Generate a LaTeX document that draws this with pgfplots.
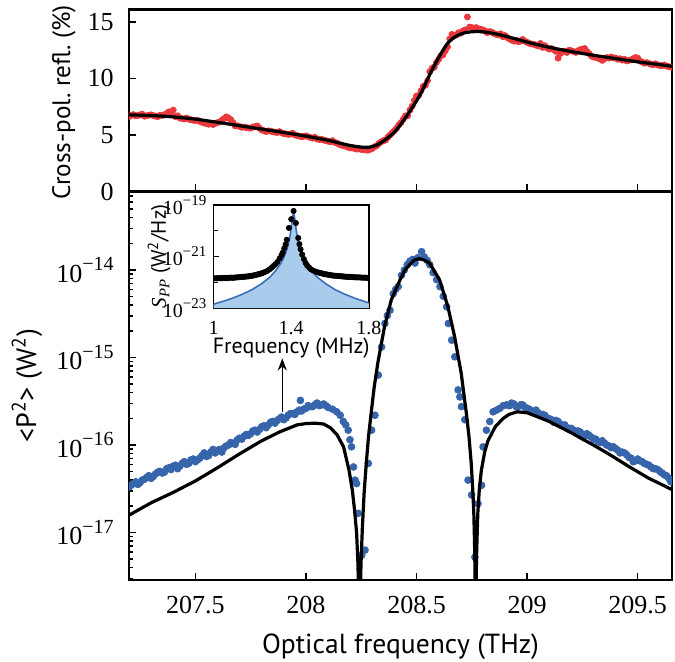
\documentclass[border=0pt]{standalone}
\usepackage{pgfplots}
\pgfplotsset{compat=1.18}
\usetikzlibrary{arrows.meta}
\usepackage{fontspec}
\setmainfont{Liberation Serif}
\setsansfont{PT Sans}
\newfontfamily\arialfont{Liberation Sans}
\definecolor{reddot}{RGB}{234,56,60}
\definecolor{bluedot}{RGB}{54,101,172}
\definecolor{fillblue}{RGB}{170,204,236}
\definecolor{lineblue}{RGB}{60,110,185}
\newcommand{\tsup}[1]{\raisebox{0.45em}{\fontsize{10}{12}\selectfont #1}}
\newcommand{\isup}[1]{\raisebox{0.45em}{\fontsize{7.5}{9}\selectfont #1}}
\begin{document}
\begin{tikzpicture}
\pgfplotsset{
  every axis/.append style={
    scale only axis,
    clip marker paths=true,
    axis line style={line width=1.1pt},
    tick style={line width=0.75pt, black},
    tick align=inside,
    xtick pos=left, ytick pos=left,
    major tick length=3.6pt,
    minor tick length=2.2pt,
    tick label style={font=\fontsize{13}{15}\selectfont},
    /pgf/number format/assume math mode=true,
  },
}
% ---------------- panel a ----------------
\begin{axis}[
  name=top, at={(0,0)}, anchor=north west,
  width=271.5pt, height=91pt,
  xmin=207.2, xmax=209.655, ymin=0, ymax=16.1,
  xtick={207.5,208,208.5,209,209.5}, xticklabels={},
  ytick={0,5,10,15}, yticklabels={0,5,10,15},
  yticklabel style={xshift=-4.2pt},
  ylabel={\sffamily Cross-pol.\ refl.\ (\%)},
  ylabel style={at={(axis description cs:-0.1197,0.49)}, anchor=center, font=\fontsize{12.6}{14}\selectfont},
]
\addplot[only marks, mark=*, color=reddot, mark size=1.5pt] coordinates {
(207.20,6.62)(207.22,6.80)(207.24,6.72)(207.26,6.84)(207.28,6.70)(207.30,6.78)(207.32,6.66)(207.34,6.74)(207.36,6.80)(207.38,7.05)(207.40,7.20)(207.42,6.70)(207.44,6.45)(207.46,6.50)(207.48,6.35)(207.50,6.28)(207.52,6.20)(207.54,6.05)(207.56,5.95)(207.58,5.92)(207.60,6.10)(207.62,6.30)(207.64,6.60)(207.66,6.35)(207.68,5.80)(207.70,5.75)(207.72,5.70)(207.74,5.62)(207.76,5.70)(207.78,5.80)(207.80,5.45)(207.82,5.30)(207.84,5.35)(207.86,5.25)(207.88,5.30)(207.90,5.12)(207.92,5.05)(207.94,5.15)(207.96,4.95)(207.98,4.85)(208.00,4.92)(208.02,4.78)(208.04,4.80)(208.06,4.60)(208.08,4.55)(208.10,4.45)(208.12,4.50)(208.14,4.28)(208.16,4.10)(208.18,4.00)(208.20,3.85)(208.22,3.80)(208.24,3.78)(208.26,3.70)(208.28,3.65)(208.30,3.80)(208.32,4.05)(208.34,4.40)(208.36,4.55)(208.38,5.00)(208.40,5.40)(208.42,5.90)(208.44,6.40)(208.46,6.70)(208.48,7.55)(208.50,8.45)(208.52,8.90)(208.54,9.40)(208.56,10.60)(208.58,11.00)(208.60,11.70)(208.62,12.10)(208.64,12.80)(208.66,13.90)(208.68,13.85)(208.70,14.00)(208.72,14.30)(208.73,15.44)(208.74,14.55)(208.76,14.45)(208.78,14.40)(208.80,14.30)(208.82,14.05)(208.84,14.10)(208.86,13.90)(208.88,13.95)(208.90,13.80)(208.92,13.50)(208.94,13.30)(208.96,13.25)(208.98,13.45)(209.00,13.20)(209.02,13.05)(209.04,12.95)(209.06,13.10)(209.08,12.90)(209.10,12.60)(209.12,12.55)(209.14,11.80)(209.16,12.40)(209.18,12.30)(209.20,12.45)(209.22,12.30)(209.24,12.55)(209.26,12.65)(209.28,12.20)(209.30,11.90)(209.32,11.80)(209.34,11.60)(209.36,11.85)(209.38,11.90)(209.40,11.80)(209.42,11.75)(209.44,11.70)(209.46,11.60)(209.48,11.75)(209.50,11.80)(209.52,11.45)(209.54,11.40)(209.56,11.25)(209.58,11.30)(209.60,11.15)(209.62,11.20)(209.64,11.05)(209.655,11.00)
};
\addplot[only marks, mark=*, color=reddot, mark size=1.5pt] coordinates {
(207.21,6.74)(207.23,6.70)(207.25,6.78)(207.27,6.66)(207.29,6.76)(207.31,6.72)(207.33,6.62)(207.35,6.72)(207.37,6.90)(207.39,6.95)(207.41,6.62)(207.43,6.50)(207.45,6.42)(207.47,6.40)(207.49,6.30)(207.51,6.30)(207.53,6.12)(207.55,6.02)(207.57,6.00)(207.59,6.02)(207.61,6.15)(207.63,6.45)(207.65,6.50)(207.67,6.10)(207.69,5.82)(207.71,5.68)(207.73,5.66)(207.75,5.60)(207.77,5.75)(207.79,5.60)(207.81,5.38)(207.83,5.36)(207.85,5.28)(207.87,5.22)(207.89,5.20)(207.91,5.10)(207.93,5.08)(207.95,5.00)(207.97,4.90)(207.99,4.88)(208.01,4.85)(208.03,4.72)(208.05,4.65)(208.07,4.62)(208.09,4.50)(208.11,4.40)(208.13,4.35)(208.15,4.18)(208.17,4.05)(208.19,3.92)(208.21,3.86)(208.23,3.75)(208.25,3.72)(208.27,3.68)(208.29,3.72)(208.31,3.95)(208.33,4.25)(208.35,4.50)(208.37,4.80)(208.39,5.20)(208.41,5.60)(208.43,6.10)(208.45,6.70)(208.47,7.20)(208.49,8.05)(208.51,8.50)(208.53,9.30)(208.55,9.80)(208.57,10.90)(208.59,11.40)(208.61,12.00)(208.63,12.45)(208.65,13.50)(208.67,13.80)(208.69,14.05)(208.71,14.20)(208.75,14.50)(208.77,14.50)(208.79,14.35)(208.81,14.20)(208.83,14.15)(208.85,13.98)(208.87,13.85)(208.89,13.70)(208.91,13.62)(208.93,13.40)(208.95,13.38)(208.97,13.30)(208.99,13.30)(209.01,13.10)(209.03,13.02)(209.05,12.88)(209.07,12.75)(209.09,12.70)(209.11,12.65)(209.13,12.40)(209.15,12.20)(209.17,12.40)(209.19,12.50)(209.21,12.38)(209.23,12.45)(209.25,12.60)(209.27,12.40)(209.29,12.00)(209.31,11.85)(209.33,11.72)(209.35,11.75)(209.37,11.80)(209.39,11.82)(209.41,11.70)(209.43,11.62)(209.45,11.55)(209.47,11.65)(209.49,11.85)(209.51,11.55)(209.53,11.35)(209.55,11.35)(209.57,11.22)(209.59,11.20)(209.61,11.12)(209.63,11.10)(209.65,11.02)
};
\addplot[black, line width=1.6pt, smooth, tension=0.5] coordinates {
(207.20,6.78)(207.30,6.72)(207.40,6.60)(207.50,6.40)(207.60,6.12)(207.70,5.82)(207.80,5.52)(207.90,5.22)(208.00,4.90)(208.10,4.53)(208.18,4.15)(208.24,3.95)(208.28,3.91)(208.32,4.10)(208.36,4.60)(208.40,5.25)(208.44,6.25)(208.48,7.40)(208.52,8.70)(208.56,10.35)(208.60,11.85)(208.64,13.10)(208.68,13.75)(208.72,14.05)(208.77,14.15)(208.82,14.08)(208.88,13.85)(208.94,13.54)(209.00,13.22)(209.06,12.93)(209.12,12.68)(209.20,12.38)(209.30,12.05)(209.40,11.76)(209.50,11.47)(209.60,11.22)(209.655,11.08)
};
\node[font=\arialfont\fontsize{17}{19}\selectfont, anchor=center] at (axis description cs:-0.2155,0.904) {a};
\end{axis}
% ---------------- panel b ----------------
\begin{axis}[
  name=bot, at={(0,-91pt)}, anchor=north west,
  width=271.5pt, height=194.25pt,
  ymode=log,
  xmin=207.2, xmax=209.655, ymin=2.87e-18, ymax=7.89e-14,
  xtick={207.5,208,208.5,209,209.5},
  xticklabels={207.5,208,208.5,209,209.5},
  xticklabel style={yshift=-4.8pt},
  ytick={1e-17,1e-16,1e-15,1e-14},
  yticklabels={10\tsup{−17},10\tsup{−16},10\tsup{−15},10\tsup{−14}},
  minor ytick={3e-18,4e-18,5e-18,6e-18,7e-18,8e-18,9e-18,2e-17,3e-17,4e-17,5e-17,6e-17,7e-17,8e-17,9e-17,2e-16,3e-16,4e-16,5e-16,6e-16,7e-16,8e-16,9e-16,2e-15,3e-15,4e-15,5e-15,6e-15,7e-15,8e-15,9e-15,2e-14,3e-14,4e-14,5e-14,6e-14,7e-14},
  yticklabel style={xshift=-4.2pt},
  xlabel={\sffamily Optical frequency (THz)},
  xlabel style={at={(axis description cs:0.5,-0.172)}, anchor=center, font=\fontsize{13.8}{15}\selectfont},
  ylabel={\sffamily <P\textsuperscript{2}> (W\textsuperscript{2})},
  ylabel style={at={(axis description cs:-0.1878,0.5)}, anchor=center, font=\fontsize{14}{16}\selectfont},
]
\addplot[only marks, mark=*, color=bluedot, mark size=1.7pt] coordinates {
(207.20,3.31e-17)(207.22,3.63e-17)(207.24,3.55e-17)(207.26,3.98e-17)(207.28,4.27e-17)(207.30,4.17e-17)(207.32,4.68e-17)(207.34,5.01e-17)(207.36,4.90e-17)(207.38,5.50e-17)(207.40,5.75e-17)(207.42,5.37e-17)(207.44,6.17e-17)(207.46,6.03e-17)(207.48,6.76e-17)(207.50,6.46e-17)(207.52,7.08e-17)(207.54,8.13e-17)(207.56,7.59e-17)(207.58,8.91e-17)(207.60,8.71e-17)(207.62,8.32e-17)(207.64,9.77e-17)(207.66,1.07e-16)(207.68,1.02e-16)(207.70,1.20e-16)(207.72,1.26e-16)(207.74,1.29e-16)(207.76,1.45e-16)(207.78,1.41e-16)(207.80,1.62e-16)(207.82,1.58e-16)(207.84,1.82e-16)(207.86,1.78e-16)(207.88,2.00e-16)(207.90,1.95e-16)(207.92,2.19e-16)(207.94,2.29e-16)(207.96,2.40e-16)(207.975,3.24e-16)(207.98,2.45e-16)(208.00,2.63e-16)(208.02,2.75e-16)(208.04,2.88e-16)(208.06,2.82e-16)(208.08,2.95e-16)(208.10,2.69e-16)
(208.12,2.57e-16)(208.139,2.40e-16)(208.155,2.19e-16)(208.169,1.86e-16)(208.18,1.70e-16)(208.191,1.48e-16)(208.199,1.15e-16)(208.206,9.55e-17)(208.215,5.62e-17)(208.222,3.98e-17)(208.229,3.63e-17)(208.236,1.66e-17)(208.252,5.50e-18)(208.267,6.31e-18)(208.282,6.17e-17)(208.297,1.48e-16)(208.312,2.19e-16)(208.327,6.31e-16)(208.342,1.32e-15)(208.357,2.45e-15)(208.368,3.02e-15)(208.380,3.47e-15)(208.395,5.37e-15)(208.406,6.03e-15)(208.417,6.46e-15)(208.432,8.71e-15)(208.445,1.0e-14)(208.458,1.15e-14)(208.470,1.26e-14)(208.482,1.32e-14)(208.493,1.20e-14)(208.505,1.38e-14)(208.523,1.62e-14)(208.535,1.41e-14)(208.548,1.29e-14)(208.560,1.15e-14)(208.575,9.33e-15)(208.591,7.76e-15)(208.606,6.46e-15)(208.621,5.01e-15)(208.636,3.80e-15)(208.644,2.45e-15)(208.659,1.58e-15)(208.673,1.02e-15)(208.688,4.27e-16)(208.696,3.55e-16)(208.703,2.75e-16)(208.718,1.95e-16)(208.733,3.98e-17)(208.749,2.69e-17)(208.764,5.25e-18)(208.778,2.14e-17)(208.794,3.47e-17)(208.801,9.55e-17)(208.816,1.48e-16)(208.831,1.86e-16)(208.846,2.40e-16)(208.862,2.51e-16)(208.877,2.63e-16)(208.892,2.82e-16)(208.907,2.88e-16)
(208.92,2.82e-16)(208.94,2.95e-16)(208.96,2.75e-16)(208.98,2.88e-16)(209.00,2.63e-16)(209.02,2.45e-16)(209.04,2.51e-16)(209.06,2.19e-16)(209.08,2.19e-16)(209.10,2.00e-16)(209.12,1.82e-16)(209.14,1.86e-16)(209.16,1.66e-16)(209.18,1.58e-16)(209.20,1.55e-16)(209.22,1.38e-16)(209.24,1.41e-16)(209.26,1.26e-16)(209.28,1.29e-16)(209.30,1.17e-16)(209.32,1.10e-16)(209.34,1.12e-16)(209.36,1.00e-16)(209.38,9.33e-17)(209.40,9.12e-17)(209.42,8.13e-17)(209.44,8.13e-17)(209.46,7.24e-17)(209.48,6.46e-17)(209.50,6.92e-17)(209.52,6.46e-17)(209.54,6.03e-17)(209.56,5.62e-17)(209.58,5.37e-17)(209.60,5.01e-17)(209.62,4.57e-17)(209.64,4.17e-17)(209.65,3.80e-17)
};
\addplot[only marks, mark=*, color=bluedot, mark size=1.7pt] coordinates {
(207.21,3.47e-17)(207.23,3.80e-17)(207.25,3.72e-17)(207.27,4.07e-17)(207.29,4.47e-17)(207.31,4.37e-17)(207.33,4.90e-17)(207.35,4.79e-17)(207.37,5.37e-17)(207.39,5.25e-17)(207.41,5.89e-17)(207.43,5.75e-17)(207.45,6.46e-17)(207.47,6.17e-17)(207.49,6.92e-17)(207.51,6.76e-17)(207.53,7.59e-17)(207.55,7.41e-17)(207.57,8.32e-17)(207.59,8.13e-17)(207.61,8.91e-17)(207.63,9.33e-17)(207.65,1.00e-16)(207.67,1.05e-16)(207.69,1.15e-16)(207.71,1.17e-16)(207.73,1.32e-16)(207.75,1.35e-16)(207.77,1.48e-16)(207.79,1.51e-16)(207.81,1.66e-16)(207.83,1.70e-16)(207.85,1.86e-16)(207.87,1.91e-16)(207.89,2.09e-16)(207.91,2.04e-16)(207.93,2.29e-16)(207.95,2.24e-16)(207.97,2.51e-16)(207.99,2.57e-16)(208.01,2.82e-16)(208.03,2.75e-16)(208.05,3.02e-16)(208.07,2.88e-16)(208.09,2.82e-16)
(208.93,3.02e-16)(208.95,2.75e-16)(208.97,2.88e-16)(208.99,2.69e-16)(209.01,2.57e-16)(209.03,2.40e-16)(209.05,2.34e-16)(209.07,2.24e-16)(209.09,2.04e-16)(209.11,1.95e-16)(209.13,1.91e-16)(209.15,1.74e-16)(209.17,1.70e-16)(209.19,1.55e-16)(209.21,1.48e-16)(209.23,1.45e-16)(209.25,1.32e-16)(209.27,1.35e-16)(209.29,1.23e-16)(209.31,1.17e-16)(209.33,1.07e-16)(209.35,1.05e-16)(209.37,9.77e-17)(209.39,9.55e-17)(209.41,8.71e-17)(209.43,8.32e-17)(209.45,7.76e-17)(209.47,7.08e-17)(209.49,6.61e-17)(209.51,6.61e-17)(209.53,6.17e-17)(209.55,5.89e-17)(209.57,5.37e-17)(209.59,5.25e-17)(209.61,4.79e-17)(209.63,4.47e-17)
};
\addplot[black, line width=1.6pt, line join=round] coordinates {
(207.20,1.58e-17)(207.30,2.19e-17)(207.40,2.88e-17)(207.50,3.89e-17)(207.60,5.50e-17)(207.70,7.94e-17)(207.80,1.12e-16)(207.88,1.41e-16)(207.96,1.70e-16)(208.00,1.76e-16)(208.04,1.78e-16)(208.08,1.74e-16)(208.11,1.58e-16)(208.14,1.32e-16)(208.17,9.55e-17)(208.195,5.13e-17)(208.21,3.02e-17)(208.22,1.78e-17)(208.229,1.00e-17)(208.235,4.47e-18)(208.239,1.58e-18)(208.242,1e-19)(208.245,1.58e-18)(208.249,4.47e-18)(208.255,1.12e-17)(208.263,2.82e-17)(208.273,6.31e-17)(208.283,1.26e-16)(208.295,2.34e-16)(208.308,4.47e-16)(208.325,8.71e-16)(208.355,2.24e-15)(208.386,4.57e-15)(208.431,8.32e-15)(208.45,1.02e-14)(208.476,1.20e-14)(208.49,1.30e-14)(208.512,1.35e-14)(208.535,1.30e-14)(208.559,1.20e-14)(208.58,9.77e-15)(208.604,7.76e-15)(208.642,3.80e-15)(208.672,1.74e-15)(208.702,6.61e-16)(208.725,2.34e-16)(208.737,1.26e-16)(208.747,6.31e-17)(208.754,3.16e-17)(208.759,1.66e-17)(208.763,6.31e-18)(208.765,2.51e-18)(208.767,1e-19)(208.769,2.51e-18)(208.772,6.31e-18)(208.777,1.66e-17)(208.784,3.16e-17)(208.793,5.13e-17)(208.808,8.32e-17)(208.823,1.12e-16)(208.856,1.62e-16)(208.89,2.00e-16)(208.918,2.24e-16)(208.955,2.40e-16)(209.00,2.34e-16)(209.05,2.09e-16)(209.10,1.86e-16)(209.146,1.62e-16)(209.20,1.38e-16)(209.25,1.17e-16)(209.30,1.00e-16)(209.341,8.71e-17)(209.40,7.08e-17)(209.45,5.89e-17)(209.497,5.01e-17)(209.55,4.17e-17)(209.60,3.63e-17)(209.655,3.09e-17)
};
\draw[-{Stealth[length=6pt,width=4.5pt]}, line width=0.75pt] (axis cs:207.893,2.40e-16) -- (axis cs:207.893,9.77e-16);
\node[font=\arialfont\fontsize{17}{19}\selectfont, anchor=center] at (axis description cs:-0.2238,0.9588) {b};
\end{axis}
% ---------------- inset ----------------
\begin{axis}[
  at={(42.25pt,-97.75pt)}, anchor=north west,
  width=77.75pt, height=51.5pt,
  ymode=log, xmin=1, xmax=1.8, ymin=1e-23, ymax=1e-19,
  axis background/.style={fill=white},
  axis line style={line width=0.8pt},
  tick style={line width=0.6pt, black},
  major tick length=2.6pt,
  tick label style={font=\fontsize{10}{12}\selectfont},
  xtick={1,1.4,1.8}, xticklabels={1,1.4,1.8},
  xticklabel style={yshift=-3.2pt},
  ytick={1e-23,1e-21,1e-19},
  yticklabels={10\isup{−23},10\isup{−21},10\isup{−19}},
  minor ytick={1e-22,1e-20},
  xlabel={\sffamily Frequency (MHz)},
  xlabel style={at={(axis description cs:0.5,-0.385)}, anchor=center, font=\fontsize{11}{13}\selectfont},
  ylabel={{\rmfamily\itshape S\textsubscript{PP}} \sffamily(W\textsuperscript{2}/Hz)},
  ylabel style={at={(axis description cs:-0.35,0.5)}, anchor=center, font=\fontsize{10.5}{12}\selectfont},
]
\addplot[draw=none, fill=fillblue] coordinates {
(1,1e-23)(1.000,1.41e-23)(1.05,1.82e-23)(1.10,2.45e-23)(1.15,3.47e-23)(1.20,5.25e-23)(1.25,9.12e-23)(1.29,1.58e-22)(1.32,2.82e-22)(1.345,5.25e-22)(1.36,8.71e-22)(1.373,1.51e-21)(1.383,2.69e-21)(1.393,5.89e-21)(1.400,1.29e-20)(1.406,3.02e-20)(1.412,5.62e-20)(1.418,3.02e-20)(1.424,1.29e-20)(1.431,5.89e-21)(1.441,2.69e-21)(1.451,1.51e-21)(1.464,8.71e-22)(1.479,5.25e-22)(1.504,2.82e-22)(1.534,1.58e-22)(1.574,9.12e-23)(1.624,5.25e-23)(1.674,3.47e-23)(1.724,2.45e-23)(1.774,1.82e-23)(1.800,1.58e-23)(1.8,1e-23)
} -- cycle;
\addplot[lineblue, line width=0.8pt, line join=round] coordinates {
(1.000,1.41e-23)(1.05,1.82e-23)(1.10,2.45e-23)(1.15,3.47e-23)(1.20,5.25e-23)(1.25,9.12e-23)(1.29,1.58e-22)(1.32,2.82e-22)(1.345,5.25e-22)(1.36,8.71e-22)(1.373,1.51e-21)(1.383,2.69e-21)(1.393,5.89e-21)(1.400,1.29e-20)(1.406,3.02e-20)(1.412,5.62e-20)(1.418,3.02e-20)(1.424,1.29e-20)(1.431,5.89e-21)(1.441,2.69e-21)(1.451,1.51e-21)(1.464,8.71e-22)(1.479,5.25e-22)(1.504,2.82e-22)(1.534,1.58e-22)(1.574,9.12e-23)(1.624,5.25e-23)(1.674,3.47e-23)(1.724,2.45e-23)(1.774,1.82e-23)(1.800,1.58e-23)
};
\addplot[only marks, mark=*, color=black, mark size=1.3pt] coordinates {
(1.000,1.45e-22)(1.0075,1.43e-22)(1.015,1.41e-22)(1.0225,1.44e-22)(1.030,1.45e-22)(1.0375,1.43e-22)(1.045,1.45e-22)(1.0525,1.47e-22)(1.060,1.48e-22)(1.0675,1.46e-22)(1.075,1.48e-22)(1.0825,1.50e-22)(1.090,1.51e-22)(1.0975,1.49e-22)(1.105,1.51e-22)(1.1125,1.53e-22)(1.120,1.55e-22)(1.1275,1.56e-22)(1.135,1.58e-22)(1.1425,1.60e-22)(1.150,1.62e-22)(1.1575,1.64e-22)(1.165,1.66e-22)(1.1725,1.68e-22)(1.180,1.70e-22)(1.1875,1.74e-22)(1.195,1.78e-22)(1.2025,1.82e-22)(1.210,1.86e-22)(1.2175,1.93e-22)(1.225,2.00e-22)(1.2325,2.07e-22)(1.240,2.14e-22)(1.2475,2.24e-22)(1.255,2.34e-22)(1.265,2.51e-22)(1.277,2.75e-22)(1.288,3.16e-22)(1.298,3.63e-22)(1.308,4.27e-22)(1.318,5.01e-22)(1.329,6.17e-22)(1.340,8.32e-22)(1.350,1.12e-21)(1.356,1.41e-21)(1.364,2.09e-21)(1.371,2.95e-21)(1.377,4.47e-21)(1.388,1.29e-20)(1.400,2.82e-20)(1.412,5.89e-20)(1.424,2.00e-20)(1.436,5.25e-21)(1.442,3.02e-21)(1.448,1.91e-21)(1.456,1.20e-21)(1.465,7.94e-22)(1.474,5.62e-22)(1.482,4.47e-22)(1.492,3.72e-22)(1.502,3.16e-22)(1.514,2.82e-22)(1.527,2.57e-22)(1.540,2.40e-22)(1.5475,2.32e-22)(1.555,2.24e-22)(1.5625,2.16e-22)(1.570,2.09e-22)(1.5775,2.04e-22)(1.585,2.00e-22)(1.5925,1.95e-22)(1.600,1.91e-22)(1.6075,1.86e-22)(1.615,1.82e-22)(1.6225,1.80e-22)(1.630,1.78e-22)(1.6375,1.76e-22)(1.645,1.74e-22)(1.6525,1.72e-22)(1.660,1.70e-22)(1.6675,1.68e-22)(1.675,1.66e-22)(1.6825,1.64e-22)(1.690,1.62e-22)(1.6975,1.62e-22)(1.705,1.62e-22)(1.7125,1.60e-22)(1.720,1.58e-22)(1.7275,1.56e-22)(1.735,1.55e-22)(1.7425,1.55e-22)(1.750,1.55e-22)(1.7575,1.53e-22)(1.765,1.51e-22)(1.7725,1.51e-22)(1.780,1.51e-22)(1.7875,1.49e-22)(1.795,1.48e-22)
};
\end{axis}
\pgfresetboundingbox
\path[use as bounding box] (-64.5pt,4.75pt) rectangle (273pt,-325.75pt);
\end{tikzpicture}
\end{document}
